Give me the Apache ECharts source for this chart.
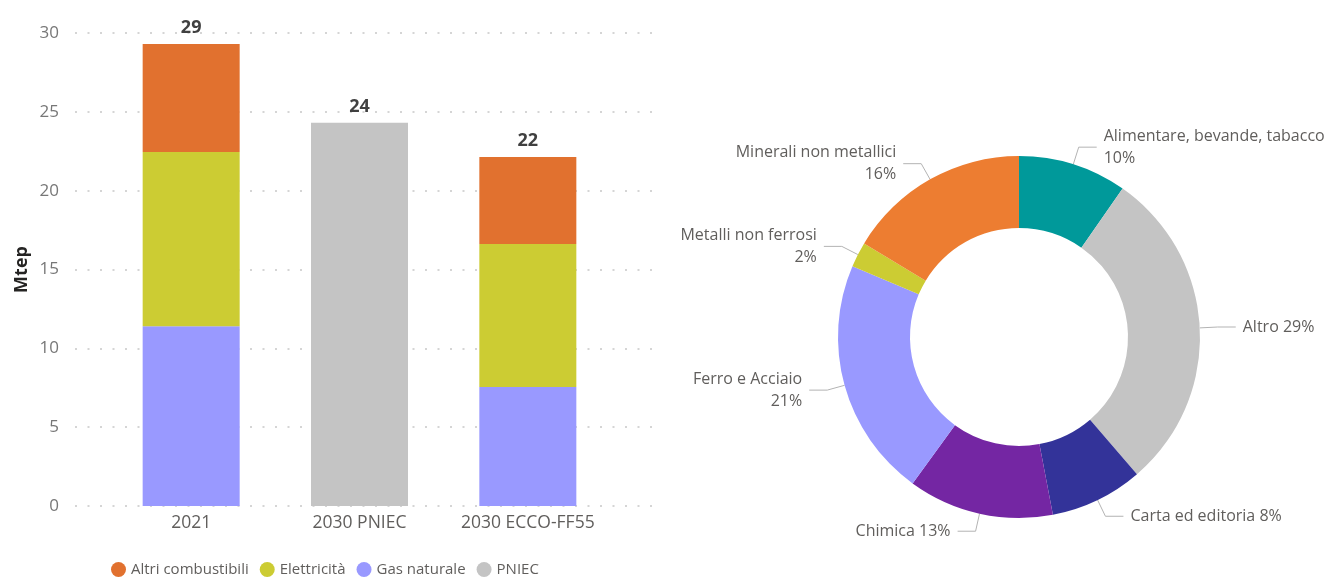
<!DOCTYPE html>
<html>
<head>
<meta charset="utf-8">
<script src="https://cdn.jsdelivr.net/npm/echarts@6/dist/echarts.min.js"></script>
<style>
  html, body { margin: 0; padding: 0; background: #fff; }
  #main { width: 1328px; height: 577px; }
</style>
</head>
<body>
<div id="main"></div>
<script>
// consumi per scenario (Mtep)
const categories = ['2021', '2030 PNIEC', '2030 ECCO-FF55']
const gasNaturale = [11.4, '-', 7.55]
const elettricita = [11.05, '-', 9.06]
const altriCombustibili = [6.85, '-', 5.52]
const pniec = ['-', 24.3, '-']
const yTicks = { min: 0, max: 30, interval: 5 }

// ripartizione per settore (%)
const settori = ['Alimentare, bevande, tabacco', 'Altro', 'Carta ed editoria', 'Chimica',
  'Ferro e Acciaio', 'Metalli non ferrosi', 'Minerali non metallici']
const quote = [9.7, 29.0, 8.3, 13.0, 21.4, 2.25, 16.35]
const aCapo = [true, false, false, false, true, true, true]

const colori = {
  altri: '#E1712F',
  elettr: '#CCCC33',
  gas: '#9999FF',
  pniec: '#C4C4C4'
}
const coloriTorta = ['#00999A', '#C4C4C4', '#333399', '#7426A3', '#9999FF', '#CCCC33', '#ED7D31']

const font = '"Segoe UI", "Open Sans", sans-serif'

const totale = (i) => {
  let s = 0
  ;[gasNaturale, elettricita, altriCombustibili].forEach((arr) => {
    if (typeof arr[i] === 'number') s += arr[i]
  })
  return s
}

let myChart = echarts.init(document.getElementById('main'))

const etichettaBarra = {
  show: true,
  position: 'top',
  distance: 7,
  color: '#404040',
  fontSize: 18,
  fontWeight: 'bold',
  fontFamily: font
}

let option = {
  textStyle: { fontFamily: font },
  animation: false,
  legend: {
    left: 106,
    top: 557,
    icon: 'circle',
    itemWidth: 15,
    itemHeight: 15,
    itemGap: 11,
    textStyle: { color: '#605E5C', fontSize: 15, fontFamily: font },
    data: ['Altri combustibili', 'Elettricità', 'Gas naturale', 'PNIEC']
  },
  grid: [
    // griglia solo per le linee a puntini
    { left: 75, right: 676, top: 33, bottom: 71 },
    // griglia delle barre
    { left: 107, right: 716, top: 33, bottom: 71 }
  ],
  xAxis: [
    { type: 'value', gridIndex: 0, show: false },
    {
      type: 'category',
      gridIndex: 1,
      data: categories,
      axisLine: { show: false },
      axisTick: { show: false },
      axisLabel: { color: '#605E5C', fontSize: 17.5, margin: 8, interval: 0, fontFamily: font }
    }
  ],
  yAxis: [
    {
      type: 'value',
      gridIndex: 0,
      min: yTicks.min,
      max: yTicks.max,
      interval: yTicks.interval,
      name: 'Mtep',
      nameLocation: 'middle',
      nameGap: 44,
      nameTextStyle: { color: '#252423', fontSize: 18, fontWeight: 'bold', fontFamily: font },
      axisLine: { show: false },
      axisTick: { show: false },
      axisLabel: { color: '#777', fontSize: 17, margin: 16, fontFamily: font },
      splitLine: { lineStyle: { type: [2, 10.5], color: '#C8C8C8', width: 1.5 } }
    },
    {
      type: 'value',
      gridIndex: 1,
      min: yTicks.min,
      max: yTicks.max,
      interval: yTicks.interval,
      show: false,
      splitLine: { show: false }
    }
  ],
  series: [
    {
      name: 'Gas naturale',
      type: 'bar',
      stack: 'tot',
      xAxisIndex: 1,
      yAxisIndex: 1,
      barWidth: 97,
      itemStyle: { color: colori.gas },
      data: gasNaturale
    },
    {
      name: 'Elettricità',
      type: 'bar',
      stack: 'tot',
      xAxisIndex: 1,
      yAxisIndex: 1,
      barWidth: 97,
      itemStyle: { color: colori.elettr },
      data: elettricita
    },
    {
      name: 'Altri combustibili',
      type: 'bar',
      stack: 'tot',
      xAxisIndex: 1,
      yAxisIndex: 1,
      barWidth: 97,
      itemStyle: { color: colori.altri },
      label: Object.assign({}, etichettaBarra, {
        formatter: (p) => Math.round(totale(p.dataIndex))
      }),
      data: altriCombustibili
    },
    {
      name: 'PNIEC',
      type: 'bar',
      stack: 'tot',
      xAxisIndex: 1,
      yAxisIndex: 1,
      barWidth: 97,
      itemStyle: { color: colori.pniec },
      label: Object.assign({}, etichettaBarra, {
        formatter: (p) => Math.round(p.value)
      }),
      data: pniec
    },
    {
      name: 'Settori',
      type: 'pie',
      center: [1019, 337],
      radius: [109, 181],
      startAngle: 90,
      clockwise: true,
      avoidLabelOverlap: true,
      label: {
        color: '#605E5C',
        fontSize: 16,
        fontFamily: font,
        lineHeight: 22,
        distanceToLabelLine: 7,
        overflow: 'none',
        formatter: (p) => {
          const pct = Math.round(p.percent) + '%'
          return aCapo[p.dataIndex] ? p.name + '\n' + pct : p.name + ' ' + pct
        }
      },
      labelLine: {
        length: 18,
        length2: 18,
        lineStyle: { color: '#B3B3B3', width: 1 }
      },
      data: settori.map((s, i) => ({
        name: s,
        value: quote[i],
        itemStyle: { color: coloriTorta[i] }
      }))
    }
  ]
}

myChart.setOption(option)
</script>
</body>
</html>
